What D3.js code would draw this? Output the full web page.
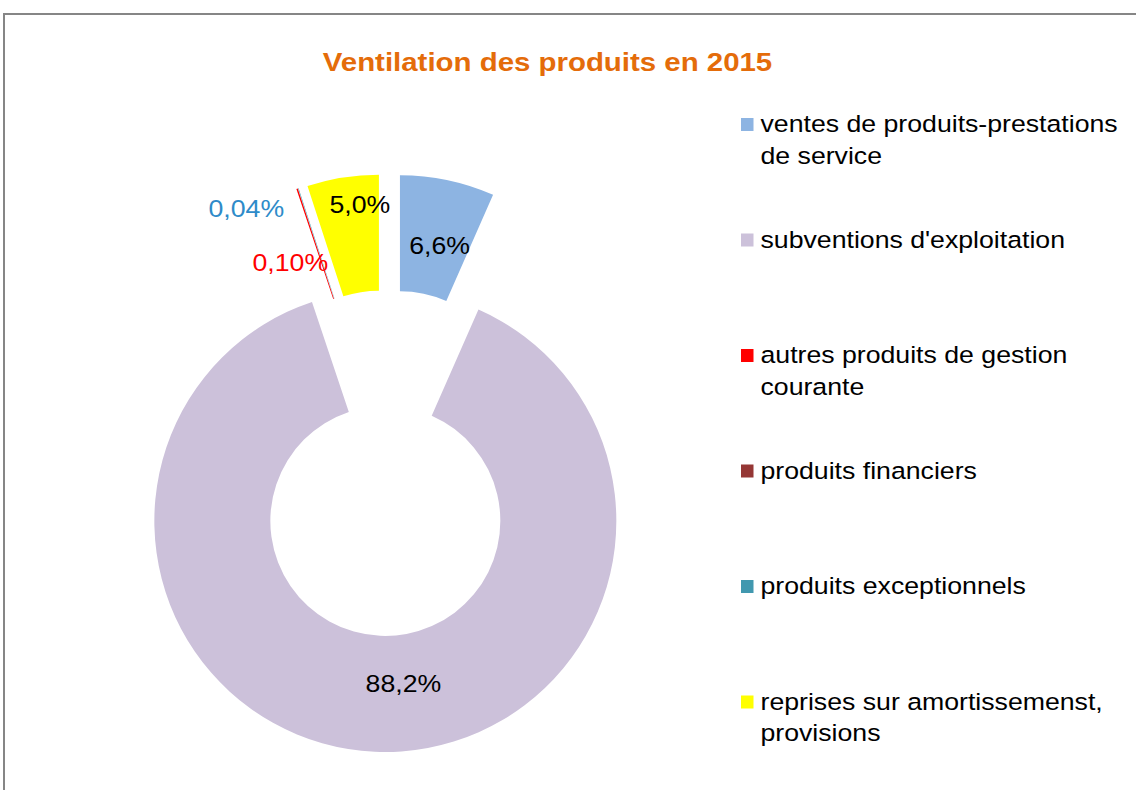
<!DOCTYPE html>
<html>
<head>
<meta charset="utf-8">
<script src="https://cdn.jsdelivr.net/npm/d3@7"></script>
<style>
  body { margin: 0; background: #fff; }
  svg text { font-family: "Liberation Sans", Arial, sans-serif; }
</style>
</head>
<body>
<div class="plot"></div>
<script>
// values (percent of total products, 2015)
let categories = [
  "ventes de produits-prestations de service",
  "subventions d'exploitation",
  "autres produits de gestion courante",
  "produits financiers",
  "produits exceptionnels",
  "reprises sur amortissemenst, provisions"
];
let values = [6.6, 88.2, 0.10, 0, 0.04, 5.0];
let labelTexts = ["6,6%", "88,2%", "0,10%", "", "0,04%", "5,0%"];
let colors = ["#8DB4E2", "#CCC1DA", "#FF0000", "#953735", "#4198AF", "#FFFF00"];
let labelColors = ["#000", "#000", "#FF0000", "#000", "#2E8BC9", "#000"];

let width = 1136, height = 790;
let cx = 388, cy = 463;       // pie centre before explosion
let outerR = 231, innerR = 115;
let explode = 58;
let SX = 1.135;               // text in the source is drawn a bit wide
let FS = 23.5;

// labels were dragged off the slice centroid in the original
let labelNudge = [[4, 9], [26, -10], [-25, 19], [0, 0], [-70, -35], [8, -30]];

let svg = d3.select(".plot")
  .append("svg")
  .attr("width", width)
  .attr("height", height);

// chart border
svg.append("rect")
  .attr("x", 4).attr("y", 14)
  .attr("width", width + 10).attr("height", height + 10)
  .attr("fill", "none")
  .attr("stroke", "#868686")
  .attr("stroke-width", 2);

svg.append("text")
  .attr("transform", "translate(547.5,70.5) scale(1.145,1)")
  .attr("text-anchor", "middle")
  .attr("font-size", 25.7)
  .attr("font-weight", "bold")
  .attr("fill", "#E46C0A")
  .text("Ventilation des produits en 2015");

let pie = d3.pie().sort(null).value(d => d)(values);
let arc = d3.arc().innerRadius(innerR).outerRadius(outerR);

function shift(p) {
  let mid = (p.startAngle + p.endAngle) / 2;
  return [cx + explode * Math.sin(mid), cy - explode * Math.cos(mid)];
}

let slices = svg.append("g").attr("class", "slices");
pie.forEach((p, i) => {
  if (p.value <= 0) return;
  let [x, y] = shift(p);
  slices.append("path")
    .attr("transform", "translate(" + x + "," + y + ")")
    .attr("d", arc(p))
    .attr("fill", colors[i]);
});

let labels = svg.append("g").attr("class", "labels");
pie.forEach((p, i) => {
  if (!labelTexts[i]) return;
  let [x, y] = shift(p);
  let c = arc.centroid(p);
  let lx = x + c[0] + labelNudge[i][0];
  let ly = y + c[1] + labelNudge[i][1];
  labels.append("text")
    .attr("transform", "translate(" + lx + "," + ly + ") scale(" + SX + ",1)")
    .attr("text-anchor", "middle")
    .attr("dy", "0.36em")
    .attr("font-size", FS)
    .attr("fill", labelColors[i])
    .text(labelTexts[i]);
});

// legend
let legendX = 741, legendY = 124.5, legendStep = 115.5, lineH = 31.5, wrapW = 366;
let legend = svg.append("g").attr("class", "legend");

categories.forEach((name, i) => {
  let y = legendY + i * legendStep;
  legend.append("rect")
    .attr("x", legendX).attr("y", y - 6.5)
    .attr("width", 12.5).attr("height", 13)
    .attr("fill", colors[i]);

  // greedy word wrap
  let words = name.split(" ");
  let lines = [], line = [];
  let probe = legend.append("text").attr("font-size", FS);
  words.forEach(w => {
    let test = line.concat([w]).join(" ");
    probe.text(test);
    if (line.length && probe.node().getComputedTextLength() * SX > wrapW) {
      lines.push(line.join(" "));
      line = [w];
    } else {
      line.push(w);
    }
  });
  lines.push(line.join(" "));
  probe.remove();

  lines.forEach((t, k) => {
    legend.append("text")
      .attr("transform", "translate(760.5," + (y + 7.5 + k * lineH) + ") scale(" + SX + ",1)")
      .attr("font-size", FS)
      .attr("fill", "#000")
      .text(t);
  });
});
</script>
</body>
</html>
